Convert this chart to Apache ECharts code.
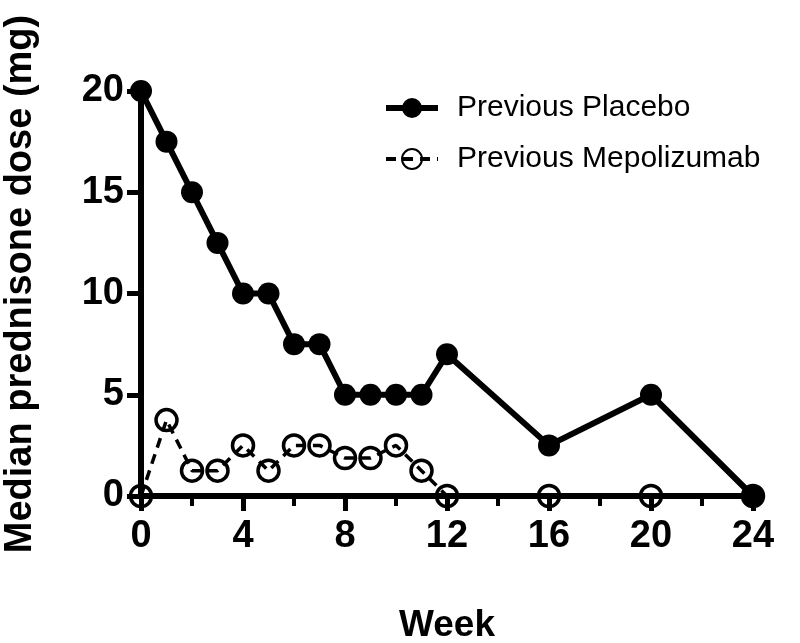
<!DOCTYPE html>
<html><head><meta charset="utf-8">
<script src="https://cdn.jsdelivr.net/npm/echarts@6/dist/echarts.min.js"></script>
<style>html,body{margin:0;padding:0;background:#fff}#c{width:800px;height:643px}</style>
</head><body><div id="c"></div>
<script>
const weeks = [0,1,2,3,4,5,6,7,8,9,10,11,12,16,20,24];
const placebo = [20,17.5,15,12.5,10,10,7.5,7.5,5,5,5,5,7,2.5,5,0];
const mepolizumab = [0,3.75,1.25,1.25,2.5,1.25,2.5,2.5,1.875,1.875,2.5,1.25,0,0,0,0];
const xTicks = [0,4,8,12,16,20,24];
const yTicks = [0,5,10,15,20];
const seriesNames = ['Previous Placebo','Previous Mepolizumab'];
const xTitle = 'Week';
const yTitle = 'Median prednisone dose (mg)';

const FONT = '"Liberation Sans", Arial, sans-serif';
const chart = echarts.init(document.getElementById('c'));
chart.setOption({
  animation:false,
  backgroundColor:'#fff',
  grid:{left:141,right:47,top:91,bottom:147,containLabel:false,outerBoundsMode:'none'},
  legend:{
    orient:'vertical', left:378, top:88, itemGap:21, itemWidth:52, itemHeight:25,
    textStyle:{fontFamily:FONT,fontSize:30,color:'#000',lineHeight:30,padding:[0,0,0,14]},
    data:[
      {name:seriesNames[0],lineStyle:{width:6,color:'#000'}},
      {name:seriesNames[1],lineStyle:{width:4,color:'#000',type:[10,7]}}
    ]
  },
  graphic:[{
    type:'text', x:21, y:284, rotation:Math.PI/2,
    style:{text:yTitle,font:'bold 38px "Liberation Sans", Arial, sans-serif',fill:'#000',
      textAlign:'center',textVerticalAlign:'middle'}
  }],
  xAxis:{
    type:'value', min:0, max:24, interval:4,
    name:xTitle, nameLocation:'middle', nameGap:111,
    nameTextStyle:{fontFamily:FONT,fontSize:37,fontWeight:'bold',color:'#000'},
    axisLine:{lineStyle:{color:'#000',width:6}},
    axisTick:{show:true,length:15,lineStyle:{color:'#000',width:5}},
    minorTick:{show:true,splitNumber:2,length:10,lineStyle:{color:'#000',width:4}},
    splitLine:{show:false},
    axisLabel:{fontFamily:FONT,fontSize:38,fontWeight:'bold',color:'#000',margin:22,
      formatter:v=>xTicks.includes(v)?String(v):''}
  },
  yAxis:{
    type:'value', min:0, max:20, interval:5,
    axisLine:{show:true,lineStyle:{color:'#000',width:6}},
    axisTick:{show:true,length:14,lineStyle:{color:'#000',width:5}},
    splitLine:{show:false},
    axisLabel:{fontFamily:FONT,fontSize:38,fontWeight:'bold',color:'#000',margin:17,
      formatter:v=>yTicks.includes(v)?String(v):''}
  },
  series:[
    {
      name:seriesNames[1], type:'line', z:3,
      data:weeks.map((w,i)=>[w,mepolizumab[i]]),
      symbol:'circle', symbolSize:21,
      lineStyle:{color:'#000',width:3.5,type:[10,7]},
      itemStyle:{color:'rgba(255,255,255,0)',borderColor:'#000',borderWidth:3.5}
    },
    {
      name:seriesNames[0], type:'line', z:4,
      data:weeks.map((w,i)=>[w,placebo[i]]),
      symbol:'circle', symbolSize:22,
      lineStyle:{color:'#000',width:6},
      itemStyle:{color:'#000',borderColor:'#000',borderWidth:0}
    }
  ]
});
</script></body></html>
